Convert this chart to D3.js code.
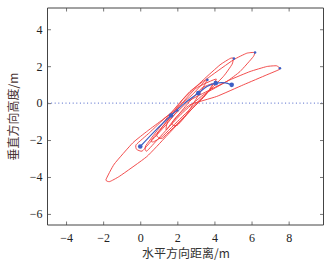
<!DOCTYPE html>
<html>
<head>
<meta charset="utf-8">
<script src="https://cdn.jsdelivr.net/npm/d3@7"></script>
<style>
body { margin: 0; background: #fff; }
svg { display: block; }
</style>
</head>
<body>
<svg id="main"></svg>
<script>
var width = 333, height = 261;
var margin = {left: 47.5, right: 9.5, top: 8, bottom: 36};

var xTicks = [-4, -2, 0, 2, 4, 6, 8];
var yTicks = [-6, -4, -2, 0, 2, 4];
var xLabel = '水平方向距离/m';
var yLabel = '垂直方向高度/m';

// red loops
var loops = [
	[[-1.85,-4.15],[-1.4,-3.3],[-0.4,-2.15],[0.4,-1.5],[1.2,-0.9],[2.0,-0.25],[2.8,0.45],[3.45,1.15],[3.6,1.26],
	 [3.45,0.95],[2.5,-0.6],[1.4,-1.8],[0.35,-2.9],[-1.1,-3.95],[-1.65,-4.25]],
	[[-0.22,-2.25],[0.5,-1.6],[1.4,-0.75],[2.0,-0.4],[1.5,-1.05],[0.6,-2.05],[0.1,-2.6],[-0.2,-2.5]],
	[[0.6,-2.0],[1.5,-0.9],[2.3,0.2],[3.4,1.26],[4.3,2.07],[4.85,2.42],[5.02,2.43],
	 [4.95,2.1],[4.48,1.44],[3.4,0.36],[2.2,-0.8],[1.2,-1.8],[0.7,-2.1]],
	[[0.3,-2.3],[1.6,-0.6],[2.68,0.63],[3.76,1.44],[5.02,2.34],[5.74,2.7],[6.15,2.74],
	 [6.1,2.52],[5.38,1.71],[4.66,1.17],[3.4,0.45],[2.2,-0.6],[1.0,-1.9],[0.35,-2.6]],
	[[1.5,-1.0],[2.6,0.1],[3.76,0.72],[4.84,1.26],[5.92,1.71],[6.82,1.98],[7.35,2.02],[7.53,1.84],
	 [6.82,1.53],[5.56,0.99],[4.12,0.36],[2.68,-0.09],[1.9,-0.8],[1.4,-1.45]],
	[[1.7,-1.1],[2.5,-0.1],[3.3,0.8],[3.9,1.05],[3.6,0.55],[2.8,-0.3],[2.0,-1.2]],
	[[0.9,-1.7],[2.0,-0.3],[3.0,0.8],[4.1,1.3],[3.5,0.4],[2.4,-0.7],[1.2,-1.9]]
];

// blue track and its markers
var trackX = [0.0, 0.8, 1.66, 2.4, 3.13, 3.6, 4.07, 4.6, 4.93];
var trackY = [-2.35, -1.5, -0.67, 0.0, 0.54, 0.9, 1.08, 1.1, 0.99];
var bigDotX = [0.0, 1.66, 3.13, 4.07, 4.93];
var bigDotY = [-2.35, -0.67, 0.54, 1.08, 0.99];
var tipX = [2.0, 3.62, 5.05, 6.19, 7.53];
var tipY = [-0.4, 1.26, 2.41, 2.74, 1.89];

var svg = d3.select('#main').attr('width', width).attr('height', height);

var x = d3.scaleLinear().domain([-5, 9.88]).range([margin.left, width - margin.right]);
var y = d3.scaleLinear().domain([-6.6, 5.15]).range([height - margin.bottom, margin.top]);

var font = '"Liberation Serif", "Times New Roman", serif';
var cjk = '"Noto Sans CJK SC", sans-serif';

// zero line
svg.append('line')
	.attr('x1', x.range()[0]).attr('x2', x.range()[1])
	.attr('y1', y(0)).attr('y2', y(0))
	.attr('stroke', '#4a62c8').attr('stroke-width', 1)
	.attr('stroke-dasharray', '1,2.6');

var line = d3.line().x(d => x(d[0])).y(d => y(d[1]));

svg.append('g').selectAll('path')
	.data(loops)
	.join('path')
	.attr('d', line.curve(d3.curveCardinalClosed.tension(0.55)))
	.attr('fill', 'none')
	.attr('stroke', '#f03a3a')
	.attr('stroke-width', 0.9);

var track = d3.zip(trackX, trackY);
svg.append('path')
	.attr('d', d3.line().x(d => x(d[0])).y(d => y(d[1])).curve(d3.curveCatmullRom)(track))
	.attr('fill', 'none')
	.attr('stroke', '#3d5fc4')
	.attr('stroke-width', 1.2);

svg.append('g').selectAll('circle')
	.data(d3.zip(bigDotX, bigDotY))
	.join('circle')
	.attr('cx', d => x(d[0])).attr('cy', d => y(d[1])).attr('r', 2.3)
	.attr('fill', '#3d5fc4');

svg.append('g').selectAll('circle')
	.data(d3.zip(tipX, tipY))
	.join('circle')
	.attr('cx', d => x(d[0])).attr('cy', d => y(d[1])).attr('r', 1.3)
	.attr('fill', '#3d5fc4');

// axes, ticks pointing inward on all four sides
var tickLen = 3.5;
function styleAxis(g) {
	g.select('.domain').remove();
	g.selectAll('.tick line').attr('stroke', '#777');
	g.selectAll('.tick text').attr('fill', '#222').style('font-family', font).style('font-size', '12px');
}
var fmt = d => d < 0 ? '\u2212' + Math.abs(d) : '' + d;

svg.append('g').attr('transform', `translate(0,${y.range()[0]})`)
	.call(d3.axisBottom(x).tickValues(xTicks).tickFormat(fmt).tickSizeInner(-tickLen).tickSizeOuter(0).tickPadding(8))
	.call(styleAxis);
svg.append('g').attr('transform', `translate(0,${y.range()[1]})`)
	.call(d3.axisTop(x).tickValues(xTicks).tickFormat('').tickSizeInner(-tickLen).tickSizeOuter(0))
	.call(styleAxis);
svg.append('g').attr('transform', `translate(${x.range()[0]},0)`)
	.call(d3.axisLeft(y).tickValues(yTicks).tickFormat(fmt).tickSizeInner(-tickLen).tickSizeOuter(0).tickPadding(5))
	.call(styleAxis);
svg.append('g').attr('transform', `translate(${x.range()[1]},0)`)
	.call(d3.axisRight(y).tickValues(yTicks).tickFormat('').tickSizeInner(-tickLen).tickSizeOuter(0))
	.call(styleAxis);

// frame
svg.append('path')
	.attr('d', `M${x.range()[0]},${y.range()[0]}V${y.range()[1]}H${x.range()[1]}V${y.range()[0]}Z`)
	.attr('fill', 'none').attr('stroke', '#444').attr('stroke-width', 1);

svg.append('text')
	.attr('x', 186).attr('y', 258)
	.attr('text-anchor', 'middle')
	.style('font-family', cjk).style('font-size', '12px').attr('fill', '#333')
	.text(xLabel);

svg.append('text')
	.attr('transform', `translate(18,${(y.range()[0] + y.range()[1]) / 2}) rotate(-90)`)
	.attr('text-anchor', 'middle')
	.style('font-family', cjk).style('font-size', '12px').attr('fill', '#4a3434')
	.text(yLabel);
</script>
</body>
</html>
